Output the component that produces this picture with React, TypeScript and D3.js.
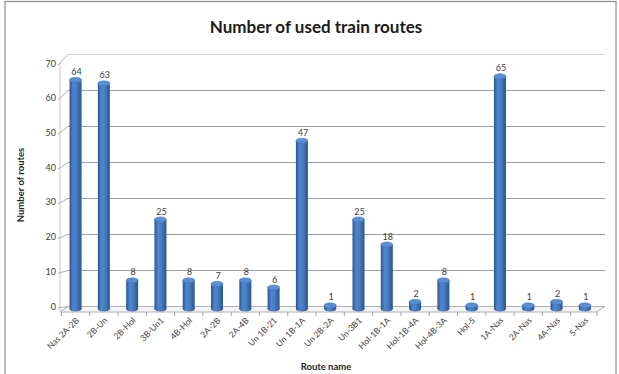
import React from "react";
import * as d3 from "d3";

const routes = [
  "Nas 2A-2B", "2B-Un", "2B-Hol", "3B-Un1", "4B-Hol", "2A-2B", "2A-4B",
  "Un 1B-21", "Un 1B-1A", "Un 2B-2A", "Un-3B1", "Hol-1B-1A", "Hol-1B-4A",
  "Hol-4B-3A", "Hol-5", "1A-Nas", "2A-Nas", "4A-Nas", "5-Nas",
];
const counts = [64, 63, 8, 25, 8, 7, 8, 6, 47, 1, 25, 18, 2, 8, 1, 65, 1, 2, 1];
const yTicks = [0, 10, 20, 30, 40, 50, 60, 70];

const W = 619;
const H = 374;
const FONT = "Lato, 'Open Sans', sans-serif";
const TEXT = "#404040";

// 3D offset between the front axis and the back wall
const DX = 8;

export default function App() {
  // back wall (gridlines)
  const yWall = d3.scaleLinear().domain([0, 70]).range([306.5, 54.5]);
  // front axis labels
  const yLabel = d3.scaleLinear().domain([0, 70]).range([306, 63]);
  // columns sit midway in depth
  const yBar = d3.scaleLinear().domain([0, 70]).range([309, 58.4]);
  const x = d3.scalePoint<string>().domain(routes).range([61.4, 599]).padding(0.5);
  const step = x.step();
  const bw = 12;
  const ry = 2.6;

  const floorFront = 312;
  const xLeft = 60;
  const xRight = 597;

  return (
    <div style={{ position: "absolute", left: 0, top: 0 }}>
      <svg width={W} height={H} style={{ display: "block", background: "#fff" }}>
        <defs>
          <linearGradient id="cyl" x1="0" x2="1" y1="0" y2="0">
            <stop offset="0%" stopColor="#2a5590" />
            <stop offset="30%" stopColor="#4f86cc" />
            <stop offset="55%" stopColor="#4a7fc2" />
            <stop offset="100%" stopColor="#2a5590" />
          </linearGradient>
        </defs>

        {/* chart frame */}
        <rect x={5} y={1.5} width={611} height={H + 10} fill="none" stroke="#8c8c8c" strokeWidth={1.2} />

        {/* title */}
        <text x={316} y={33} textAnchor="middle" fontFamily={FONT} fontWeight="bold" fontSize={17} fill="#1a1a1a">
          Number of used train routes
        </text>

        {/* floor */}
        <polygon
          points={`${xLeft},${floorFront} ${xLeft + DX},${yWall(0)} ${xRight + DX},${yWall(0)} ${xRight},${floorFront}`}
          fill="#f4f4f4"
          stroke="#b0b0b0"
          strokeWidth={1}
        />

        {/* left wall edge */}
        <line x1={xLeft} x2={xLeft} y1={yLabel(70)} y2={floorFront} stroke="#c8c8c8" />

        {/* back wall gridlines and diagonal ticks */}
        {yTicks.map((t) => (
          <g key={t}>
            {t > 0 && (
              <line
                x1={xLeft + DX}
                x2={xRight + DX}
                y1={yWall(t)}
                y2={yWall(t)}
                stroke={t === 70 ? "#d4d4d4" : "#a0a0a0"}
                strokeWidth={1.1}
              />
            )}
            <line x1={xLeft - 2} y1={yLabel(t) + 2} x2={xLeft + DX} y2={yWall(t)} stroke="#b0b0b0" />
            <text x={xLeft - 4} y={yLabel(t) + 3.5} textAnchor="end" fontFamily={FONT} fontSize={9} fill={TEXT}>
              {t}
            </text>
          </g>
        ))}

        {/* category ticks on the floor front edge */}
        {routes.map((r) => (
          <line
            key={"tk" + r}
            x1={x(r)! - step / 2}
            x2={x(r)! - step / 2}
            y1={floorFront}
            y2={floorFront + 4}
            stroke="#a0a0a0"
          />
        ))}
        <line x1={xRight} x2={xRight} y1={floorFront} y2={floorFront + 4} stroke="#a0a0a0" />

        {/* cylinder columns */}
        {routes.map((r, i) => {
          const cx = x(r)!;
          const top = yBar(counts[i]);
          const base = yBar(0);
          return (
            <g key={r}>
              <ellipse cx={cx} cy={base} rx={bw / 2} ry={ry} fill="url(#cyl)" />
              <rect x={cx - bw / 2} y={top} width={bw} height={base - top} fill="url(#cyl)" />
              <ellipse cx={cx} cy={top} rx={bw / 2} ry={ry} fill="#5a8fd3" stroke="#3f72b4" strokeWidth={0.5} />
              <text x={cx + 1} y={top - 5} textAnchor="middle" fontFamily={FONT} fontSize={9} fill={TEXT}>
                {counts[i]}
              </text>
            </g>
          );
        })}

        {/* category labels */}
        {routes.map((r) => {
          const lx = x(r)! + 4;
          const ly = floorFront + 9;
          return (
            <text
              key={"lb" + r}
              transform={`translate(${lx},${ly}) rotate(-45)`}
              textAnchor="end"
              fontFamily={FONT}
              fontSize={8.5}
              fill={TEXT}
            >
              {r}
            </text>
          );
        })}

        {/* axis titles */}
        <text
          transform={`translate(24,185) rotate(-90)`}
          textAnchor="middle"
          fontFamily={FONT}
          fontWeight="bold"
          fontSize={9.5}
          fill="#262626"
        >
          Number of routes
        </text>
        <text x={326} y={370} textAnchor="middle" fontFamily={FONT} fontWeight="bold" fontSize={9.5} fill="#262626">
          Route name
        </text>
      </svg>
    </div>
  );
}
